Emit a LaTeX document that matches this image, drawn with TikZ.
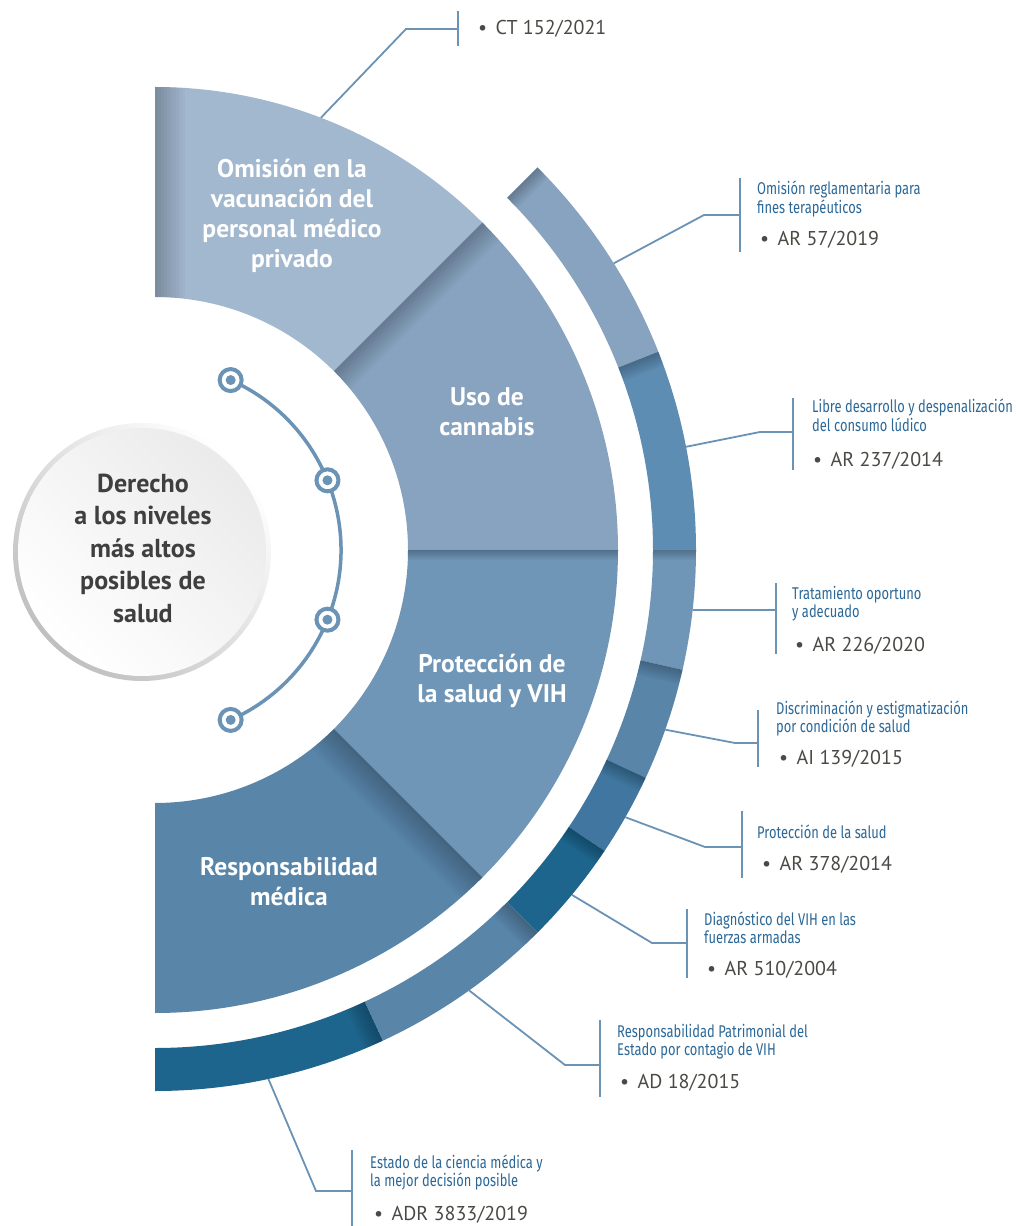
\documentclass[tikz,border=0pt]{standalone}
\usepackage{fontspec}
\setmainfont{PT Sans}
\newfontfamily\condfont[FakeStretch=0.76]{Fira Sans}
\usetikzlibrary{calc}
\definecolor{secA}{HTML}{A2B8CF}
\definecolor{secB}{HTML}{87A3C0}
\definecolor{secC}{HTML}{6F96B7}
\definecolor{secD}{HTML}{5985A9}
\definecolor{ringB}{HTML}{5E8DB3}
\definecolor{ringE}{HTML}{40769F}
\definecolor{ringF}{HTML}{1D658C}
\definecolor{leader}{HTML}{6A93B6}
\definecolor{titleblue}{HTML}{2B6898}
\definecolor{itemgray}{HTML}{4A4A45}
\definecolor{hubgray}{HTML}{3F3F3F}
\def\annulus[#1](#2:#3:#4:#5){\fill[#1] (#2:#4) arc (#2:#3:#4) -- (#3:#5) arc (#3:#2:#5) -- cycle;}
\def\edgedim(#1:#2:#3:#4:#5){\begin{scope}
	\clip (#1:#3) arc (#1:#2:#3) -- (#2:#4) arc (#2:#1:#4) -- cycle;
	\foreach \k in {1,...,10}{\fill[black,opacity=0.025,rotate=#1] (#3-8,0) rectangle (#4+8,-\k*#5);}
	\end{scope}}

\begin{document}
\begin{tikzpicture}[x=1pt, y=1pt,
	seclabel/.style={text=white, align=center, inner sep=0pt, font=\fontsize{25.5}{30}\selectfont\bfseries},
	hubtext/.style={text=hubgray, align=center, inner sep=0pt, font=\fontsize{26}{32.5}\selectfont\bfseries},
	casetitle/.style={text=titleblue, text width=300pt, align=flush left, anchor=base west, inner sep=0pt, font=\condfont\fontsize{17}{18.5}\selectfont},
	caseitem/.style={text=itemgray, anchor=base west, inner sep=0pt, font=\fontsize{20}{22}\selectfont},
	leaderline/.style={draw=leader, line width=1.8pt},
	bar/.style={draw=leader, line width=2.4pt},
	hubdot/.style={circle, draw=leader, line width=4pt, fill=white, minimum size=22pt, inner sep=0pt}]
			%%%%% START %%%%%
			
			\path[use as bounding box, fill=white] (-155,-676) rectangle (861,550);
			
			% sectors
			\annulus[secA](90:45:253:463)
			\edgedim(90:45:253:463:3)
			\annulus[secB](45:0:253:463)
			\edgedim(45:0:253:463:2.5)
			\annulus[secC](0:-45:253:463)
			\edgedim(0:-45:253:463:1)
			\annulus[secD](-45:-90:253:463)
			\edgedim(-45:-90:253:463:3)
			
			% outer ring
			\annulus[secB](45:21.5:498:541)
			\edgedim(45:21.5:498:541:1.5)
			\annulus[ringB](21.5:0:498:541)
			\edgedim(21.5:0:498:541:1.5)
			\annulus[secC](0:-12.8:498:541)
			\edgedim(0:-12.8:498:541:1)
			\annulus[secD](-12.8:-24.9:498:541)
			\edgedim(-12.8:-24.9:498:541:1.5)
			\annulus[ringE](-24.9:-33.8:498:541)
			\edgedim(-24.9:-33.8:498:541:1.5)
			\annulus[ringF](-33.8:-45:498:541)
			\edgedim(-33.8:-45:498:541:1.5)
			\annulus[secD](-45:-65.1:498:541)
			\edgedim(-45:-65.1:498:541:2)
			\annulus[ringF](-65.1:-90:498:541)
			\edgedim(-65.1:-90:498:541:2)
			
			\node[seclabel] (omision) at (137,334) {Omisión en la\\vacunación del\\personal médico\\privado};
			\node[seclabel] (cannabis) at (332,138) {Uso de\\cannabis};
			\node[seclabel] (vih) at (337,-131) {Protección de\\la salud y VIH};
			\node[seclabel] (respmed) at (134,-332) {Responsabilidad\\médica};
			
			% hub
			\shade[top color=white, bottom color=black!25, shading angle=-45] (-13,-2) circle (129);
			\shade[top color=black!8, bottom color=white, shading angle=-45] (-13,-2) circle (124);
			\node[hubtext] (hub) at (-12,2) {Derecho\\a los niveles\\más altos\\posibles de\\salud};
			
			\foreach \a/\n in {66/1,22/2,-22/3,-66/4} \coordinate (a\n) at (\a:186);
			\draw[leader, line width=3.5pt] (a1) arc (66:-66:186);
			\foreach \n in {1,...,4} {\node[hubdot] (d\n) at (a\n) {}; \fill[leader] (d\n) circle (5);}
			
			% cases
			\coordinate (p1) at (69:463);
			\coordinate (k1) at (251,521);
			\coordinate (b1) at (303,521);
			\draw[leaderline] (p1) -- (k1) -- (b1);
			\draw[bar] (303,539) -- (303,504);
			\node[caseitem] (i1) at (323,515) {\makebox[17.5pt][l]{\textbullet}CT 152/2021};
			
			\coordinate (p2) at (32:541);
			\coordinate (k2) at (549,335);
			\coordinate (b2) at (585,335);
			\draw[leaderline] (p2) -- (k2) -- (b2);
			\draw[bar] (585,372) -- (585,298);
			\node[casetitle] (t2) at (602,355) {Omisión reglamentaria para\\fines terapéuticos};
			\node[caseitem] (i2) at (605,304) {\makebox[17.5pt][l]{\textbullet}AR 57/2019};
			
			\coordinate (p3) at (11:541);
			\coordinate (k3) at (605,118);
			\coordinate (b3) at (638,118);
			\draw[leaderline] (p3) -- (k3) -- (b3);
			\draw[bar] (638,152) -- (638,80);
			\node[casetitle] (t3) at (657,137) {Libre desarrollo y despenalización\\del consumo lúdico};
			\node[caseitem] (i3) at (658,83) {\makebox[17.5pt][l]{\textbullet}AR 237/2014};
			
			\coordinate (p4) at (-6.37:541);
			\coordinate (b4) at (621,-60);
			\draw[leaderline] (p4) -- (b4);
			\draw[bar] (621,-33) -- (621,-104);
			\node[casetitle] (t4) at (637,-49) {Tratamiento oportuno\\y adecuado};
			\node[caseitem] (i4) at (640,-101) {\makebox[17.5pt][l]{\textbullet}AR 226/2020};
			
			\coordinate (p5) at (-19.4:541);
			\coordinate (k5) at (580,-193);
			\coordinate (b5) at (603,-193);
			\draw[leaderline] (p5) -- (k5) -- (b5);
			\draw[bar] (603,-160) -- (603,-217);
			\node[casetitle] (t5) at (621,-164) {Discriminación y estigmatización\\por condición de salud};
			\node[caseitem] (i5) at (624,-214) {\makebox[17.5pt][l]{\textbullet}AI 139/2015};
			
			\coordinate (p6) at (-29.6:541);
			\coordinate (k6) at (550,-297);
			\coordinate (b6) at (587,-297);
			\draw[leaderline] (p6) -- (k6) -- (b6);
			\draw[bar] (587,-261) -- (587,-328);
			\node[casetitle] (t6) at (602,-288) {Protección de la salud};
			\node[caseitem] (i6) at (607,-320) {\makebox[17.5pt][l]{\textbullet}AR 378/2014};
			
			\coordinate (p7) at (-39.6:541);
			\coordinate (k7) at (497,-393);
			\coordinate (b7) at (532,-393);
			\draw[leaderline] (p7) -- (k7) -- (b7);
			\draw[bar] (532,-359) -- (532,-428);
			\node[casetitle] (t7) at (549,-375) {Diagnóstico del VIH en las\\fuerzas armadas};
			\node[caseitem] (i7) at (552,-425) {\makebox[17.5pt][l]{\textbullet}AR 510/2004};
			
			\coordinate (p8) at (-54.5:541);
			\coordinate (k8) at (410,-515);
			\coordinate (b8) at (445,-515);
			\draw[leaderline] (p8) -- (k8) -- (b8);
			\draw[bar] (445,-470) -- (445,-547);
			\node[casetitle] (t8) at (462,-487) {Responsabilidad Patrimonial del\\Estado por contagio de VIH};
			\node[caseitem] (i8) at (465,-538) {\makebox[17.5pt][l]{\textbullet}AD 18/2015};
			
			\coordinate (p9) at (-77.9:541);
			\coordinate (k9) at (161,-641);
			\coordinate (b9) at (197,-641);
			\draw[leaderline] (p9) -- (k9) -- (b9);
			\draw[bar] (197,-600) -- (197,-680);
			\node[casetitle] (t9) at (215,-618) {Estado de la ciencia médica y\\la mejor decisión posible};
			\node[caseitem] (i9) at (219,-670) {\makebox[17.5pt][l]{\textbullet}ADR 3833/2019};
			
			%%%%% END %%%%%
\end{tikzpicture}
\end{document}
